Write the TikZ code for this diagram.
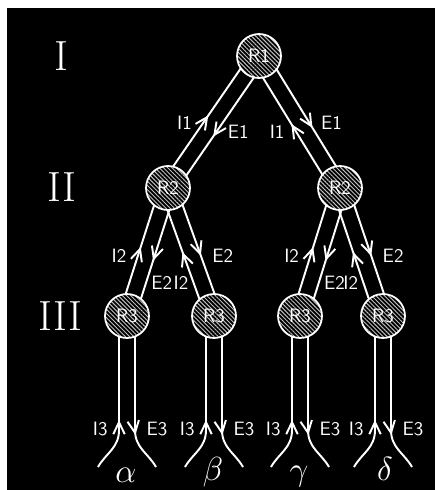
\documentclass[tikz,border=0pt]{standalone}
\usepackage{fix-cm}
\usepackage{fontspec}
\usepackage{tikz}
\usetikzlibrary{calc,arrows.meta,decorations.markings,patterns.meta,backgrounds}

\begin{document}
\begin{tikzpicture}[
      x=0.02cm, y=-0.02cm,
      >={Straight Barb[length=2.4mm,width=2.3mm]},
      relay/.style={draw=white, line width=1pt, circle, minimum size=0.88cm,
                    inner sep=0pt, preaction={fill=black},
                    pattern={Lines[angle=-45,distance=1.7pt,line width=0.55pt]},
                    pattern color=white!75!black, text=white,
                    font=\sffamily\fontsize{11}{11}\selectfont},
      wire/.style={white, line width=1.1pt},
      inflow/.style={wire, postaction={decorate, decoration={markings,
                     mark=at position #1 with {\arrowreversed{>}}}}},
      outflow/.style={wire, postaction={decorate, decoration={markings,
                     mark=at position #1 with {\arrow{>}}}}},
      tag/.style={text=white, inner sep=1pt,
                  font=\sffamily\fontsize{11}{11}\selectfont},
      level/.style={text=white, font=\fontsize{24}{24}\selectfont},
      branch/.style={text=white, anchor=base, font=\fontsize{19}{19}\selectfont},
    ]
    \useasboundingbox (0,0) rectangle (435,490);

    % relays
    \node[relay] (r1) at (259,56) {R1};
    \node[relay] (r2a) at (168,188) {R2};
    \node[relay] (r2b) at (340,188) {R2};
    \node[relay] (r3a) at (127,316) {R3};
    \node[relay] (r3b) at (214,316) {R3};
    \node[relay] (r3c) at (300,316) {R3};
    \node[relay] (r3d) at (383,316) {R3};

    % levels and branches
    \node[level] (lvone) at (61,56) {I};
    \node[level] (lvtwo) at (62,187) {II};
    \node[level] (lvthree) at (60,316) {III};
    \node[branch] (bra) at (126,482) {$\alpha$};
    \node[branch] (brb) at (213,480) {$\beta$};
    \node[branch] (brc) at (299,480) {$\gamma$};
    \node[branch] (brd) at (385,480) {$\delta$};

    \begin{scope}[on background layer]
      \fill[white] (0,0) rectangle (435,490);
      \fill[black] (7,8) rectangle (435,490);

      % first level
      \draw[inflow=0.485] ($(r1.center)!0.16cm!-90:(r2a.center)$)
        -- node[tag, pos=0.54, left=5pt] {I1} ($(r2a.center)!0.16cm!90:(r1.center)$);
      \draw[outflow=0.576] ($(r1.center)!0.16cm!90:(r2a.center)$)
        -- node[tag, pos=0.54, right=5pt] {E1} ($(r2a.center)!0.16cm!-90:(r1.center)$);
      \draw[inflow=0.485] ($(r1.center)!0.16cm!-90:(r2b.center)$)
        -- node[tag, pos=0.54, left=5pt] {I1} ($(r2b.center)!0.16cm!90:(r1.center)$);
      \draw[outflow=0.576] ($(r1.center)!0.16cm!90:(r2b.center)$)
        -- node[tag, pos=0.54, right=5pt] {E1} ($(r2b.center)!0.16cm!-90:(r1.center)$);

      % second level
      \draw[inflow=0.48] ($(r2a.center)!0.16cm!-90:(r3a.center)$)
        -- node[tag, pos=0.55, left=5pt] {I2} ($(r3a.center)!0.16cm!90:(r2a.center)$);
      \draw[outflow=0.55] ($(r2a.center)!0.16cm!90:(r3a.center)$)
        -- node[tag, pos=0.72, right=1.5pt] {E2} ($(r3a.center)!0.16cm!-90:(r2a.center)$);
      \draw[inflow=0.48] ($(r2a.center)!0.16cm!-90:(r3b.center)$)
        -- node[tag, pos=0.72, left=1.5pt] {I2} ($(r3b.center)!0.16cm!90:(r2a.center)$);
      \draw[outflow=0.55] ($(r2a.center)!0.16cm!90:(r3b.center)$)
        -- node[tag, pos=0.55, right=5pt] {E2} ($(r3b.center)!0.16cm!-90:(r2a.center)$);
      \draw[inflow=0.48] ($(r2b.center)!0.16cm!-90:(r3c.center)$)
        -- node[tag, pos=0.55, left=5pt] {I2} ($(r3c.center)!0.16cm!90:(r2b.center)$);
      \draw[outflow=0.55] ($(r2b.center)!0.16cm!90:(r3c.center)$)
        -- node[tag, pos=0.72, right=1.5pt] {E2} ($(r3c.center)!0.16cm!-90:(r2b.center)$);
      \draw[inflow=0.48] ($(r2b.center)!0.16cm!-90:(r3d.center)$)
        -- node[tag, pos=0.72, left=1.5pt] {I2} ($(r3d.center)!0.16cm!90:(r2b.center)$);
      \draw[outflow=0.55] ($(r2b.center)!0.16cm!90:(r3d.center)$)
        -- node[tag, pos=0.55, right=5pt] {E2} ($(r3d.center)!0.16cm!-90:(r2b.center)$);

      % third level, flaring out at the foot
      \foreach \leaf in {r3a,r3b,r3c,r3d} {
        \draw[inflow=2.08cm] ($(\leaf.center)+(-8,0)$)
          -- node[tag, pos=0.99, left=5pt] {I3} ++(0,114)
          .. controls +(0,18) and +(8,-14) .. ++(-21,37);
        \draw[outflow=2.38cm] ($(\leaf.center)+(8,0)$)
          -- node[tag, pos=0.99, right=5pt] {E3} ++(0,114)
          .. controls +(0,18) and +(-8,-14) .. ++(21,37);
      }
    \end{scope}
  \end{tikzpicture}
\end{document}
